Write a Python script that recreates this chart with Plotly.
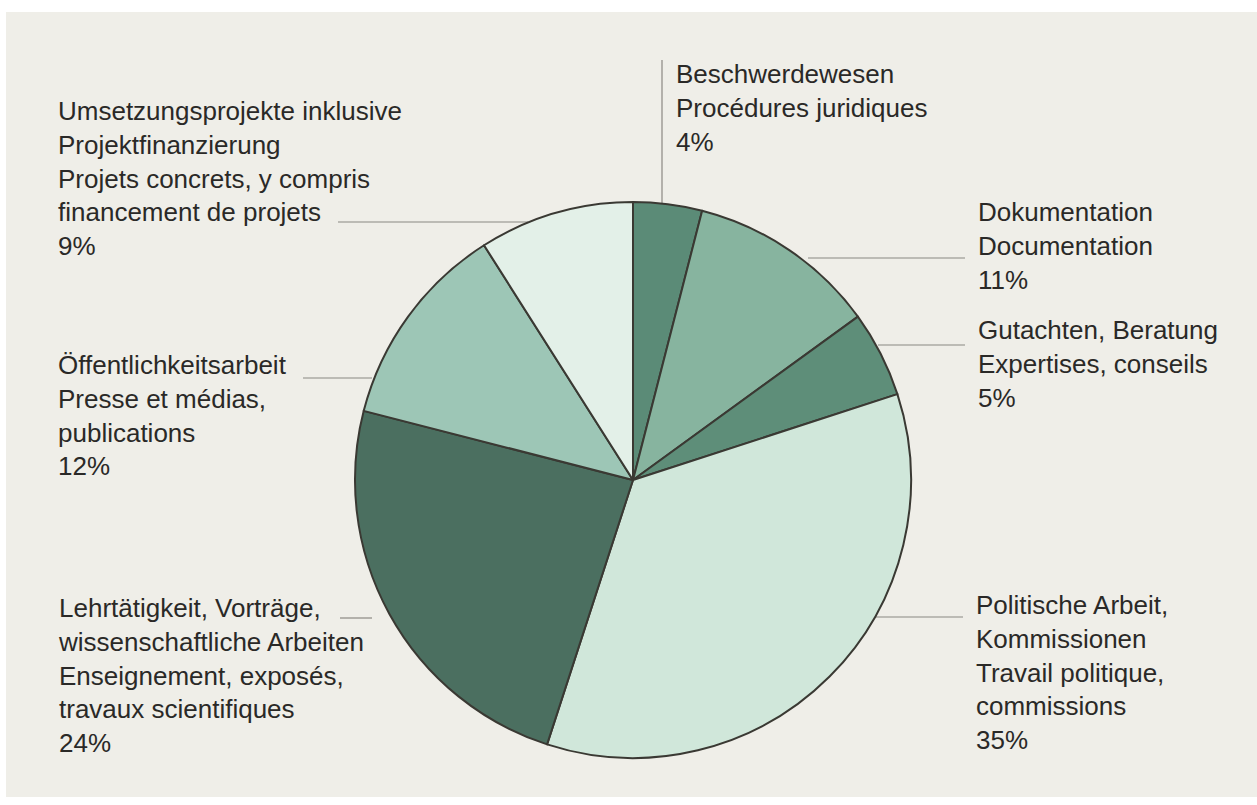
import plotly.graph_objects as go

W, H = 1257, 805

categories = [
    "Beschwerdewesen / Procédures juridiques",
    "Dokumentation / Documentation",
    "Gutachten, Beratung / Expertises, conseils",
    "Politische Arbeit, Kommissionen / Travail politique, commissions",
    "Lehrtätigkeit, Vorträge, wissenschaftliche Arbeiten / Enseignement, exposés, travaux scientifiques",
    "Öffentlichkeitsarbeit / Presse et médias, publications",
    "Umsetzungsprojekte inklusive Projektfinanzierung / Projets concrets, y compris financement de projets",
]
values = [4, 11, 5, 35, 24, 12, 9]
colors = ["#5b8b77", "#87b49f", "#5e8e79", "#d0e7da", "#4b6f60", "#9dc6b6", "#e3f0e8"]

label_texts = [
    "Beschwerdewesen<br>Procédures juridiques<br>4%",
    "Dokumentation<br>Documentation<br>11%",
    "Gutachten, Beratung<br>Expertises, conseils<br>5%",
    "Politische Arbeit,<br>Kommissionen<br>Travail politique,<br>commissions<br>35%",
    "Lehrtätigkeit, Vorträge,<br>wissenschaftliche Arbeiten<br>Enseignement, exposés,<br>travaux scientifiques<br>24%",
    "Öffentlichkeitsarbeit<br>Presse et médias,<br>publications<br>12%",
    "Umsetzungsprojekte inklusive<br>Projektfinanzierung<br>Projets concrets, y compris<br>financement de projets<br>9%",
]
# label anchor (left x, top y) in pixels
label_pos = [(674, 57), (976, 195), (976, 313), (974, 588), (56, 591), (56, 348), (56, 94)]
# leader lines in pixels (x0, y0, x1, y1)
leaders = [
    (662, 60, 662, 203),
    (808, 258, 965, 258),
    (878, 345, 965, 345),
    (875, 617, 963, 617),
    (340, 618, 372, 618),
    (303, 378, 372, 378),
    (338, 222, 528, 222),
]

cx, cy, r = 633, 480, 278

fig = go.Figure()
fig.add_trace(go.Pie(
    labels=categories,
    values=values,
    sort=False,
    direction="clockwise",
    rotation=0,
    textinfo="none",
    hoverinfo="label+percent",
    marker=dict(colors=colors, line=dict(color="#3a3933", width=2)),
    domain=dict(x=[(cx - r) / W, (cx + r) / W], y=[1 - (cy + r) / H, 1 - (cy - r) / H]),
    showlegend=False,
))

shapes = [dict(type="rect", xref="paper", yref="paper", x0=6 / W, x1=1, y0=1 - 797 / H, y1=1 - 12 / H,
               fillcolor="#efeee8", line=dict(width=0), layer="below")]
for (x0, y0, x1, y1) in leaders:
    shapes.append(dict(type="line", xref="paper", yref="paper", x0=x0 / W, x1=x1 / W,
                       y0=1 - y0 / H, y1=1 - y1 / H, line=dict(color="#8a8882", width=1.2), layer="below"))

annotations = []
for txt, (x, y) in zip(label_texts, label_pos):
    annotations.append(dict(text=txt, xref="paper", yref="paper", x=x / W, y=1 - y / H,
                            xanchor="left", yanchor="top", align="left", showarrow=False,
                            font=dict(family="Liberation Sans, Arial, sans-serif", size=26, color="#2a2927")))

fig.update_layout(
    width=W, height=H,
    margin=dict(l=0, r=0, t=0, b=0),
    paper_bgcolor="#ffffff",
    plot_bgcolor="#ffffff",
    shapes=shapes,
    annotations=annotations,
)

fig.write_html("out.html", config={"displayModeBar": False},
               post_script="document.body.style.margin='0';document.body.style.overflow='hidden';")
